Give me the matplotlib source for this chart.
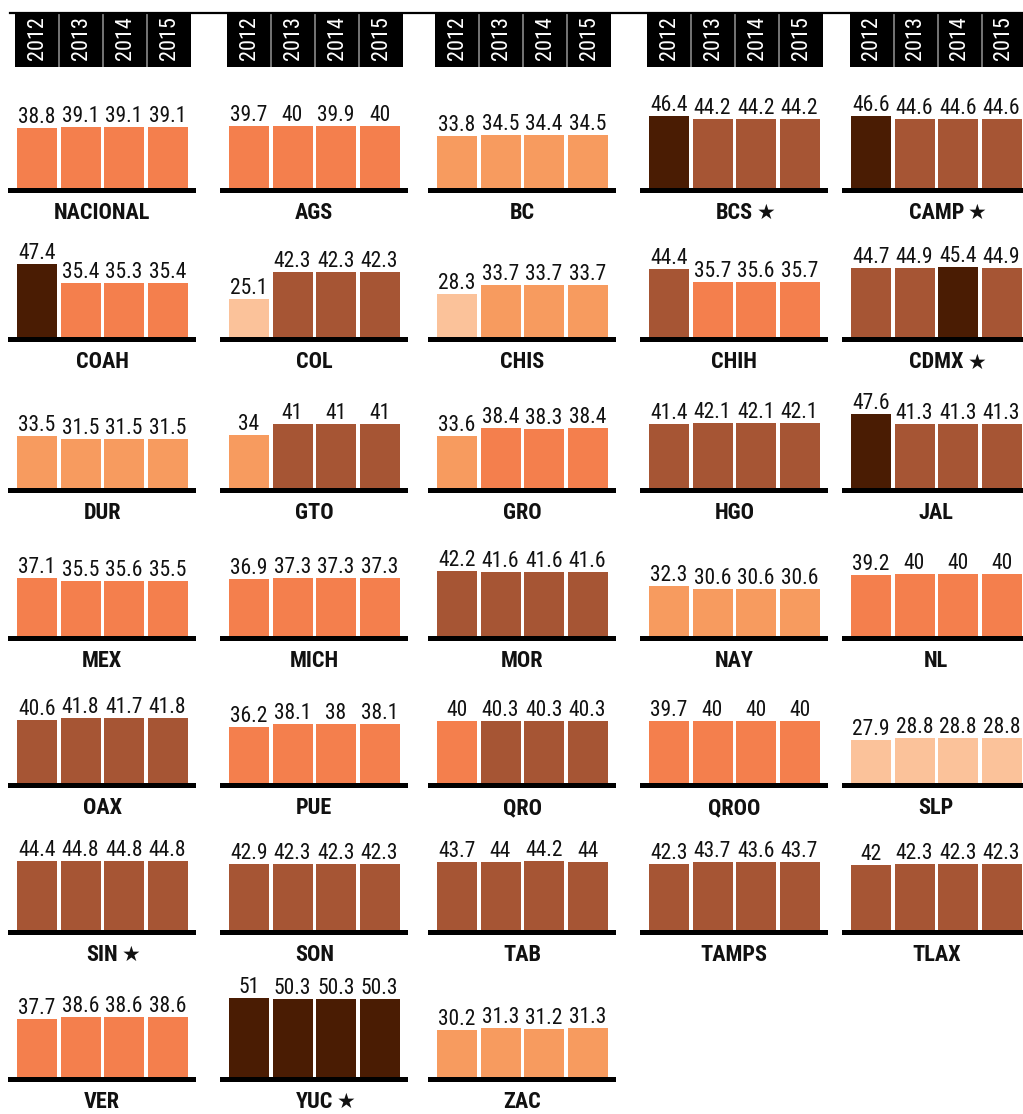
import matplotlib
matplotlib.use('Agg')
import matplotlib.pyplot as plt
from matplotlib.lines import Line2D
from matplotlib import font_manager
from matplotlib.font_manager import FontProperties
import os

W, H = 1023, 1114

years = ['2012', '2013', '2014', '2015']

states_row1 = ['NACIONAL', 'AGS', 'BC', 'BCS', 'CAMP']
states_row2 = ['COAH', 'COL', 'CHIS', 'CHIH', 'CDMX']
states_row3 = ['DUR', 'GTO', 'GRO', 'HGO', 'JAL']
states_row4 = ['MEX', 'MICH', 'MOR', 'NAY', 'NL']
states_row5 = ['OAX', 'PUE', 'QRO', 'QROO', 'SLP']
states_row6 = ['SIN', 'SON', 'TAB', 'TAMPS', 'TLAX']
states_row7 = ['VER', 'YUC', 'ZAC']

starred = ['BCS', 'CAMP', 'CDMX', 'SIN', 'YUC']

NACIONAL = [38.8, 39.1, 39.1, 39.1]
AGS = [39.7, 40, 39.9, 40]
BC = [33.8, 34.5, 34.4, 34.5]
BCS = [46.4, 44.2, 44.2, 44.2]
CAMP = [46.6, 44.6, 44.6, 44.6]
COAH = [47.4, 35.4, 35.3, 35.4]
COL = [25.1, 42.3, 42.3, 42.3]
CHIS = [28.3, 33.7, 33.7, 33.7]
CHIH = [44.4, 35.7, 35.6, 35.7]
CDMX = [44.7, 44.9, 45.4, 44.9]
DUR = [33.5, 31.5, 31.5, 31.5]
GTO = [34, 41, 41, 41]
GRO = [33.6, 38.4, 38.3, 38.4]
HGO = [41.4, 42.1, 42.1, 42.1]
JAL = [47.6, 41.3, 41.3, 41.3]
MEX = [37.1, 35.5, 35.6, 35.5]
MICH = [36.9, 37.3, 37.3, 37.3]
MOR = [42.2, 41.6, 41.6, 41.6]
NAY = [32.3, 30.6, 30.6, 30.6]
NL = [39.2, 40, 40, 40]
OAX = [40.6, 41.8, 41.7, 41.8]
PUE = [36.2, 38.1, 38, 38.1]
QRO = [40, 40.3, 40.3, 40.3]
QROO = [39.7, 40, 40, 40]
SLP = [27.9, 28.8, 28.8, 28.8]
SIN = [44.4, 44.8, 44.8, 44.8]
SON = [42.9, 42.3, 42.3, 42.3]
TAB = [43.7, 44, 44.2, 44]
TAMPS = [42.3, 43.7, 43.6, 43.7]
TLAX = [42, 42.3, 42.3, 42.3]
VER = [37.7, 38.6, 38.6, 38.6]
YUC = [51, 50.3, 50.3, 50.3]
ZAC = [30.2, 31.3, 31.2, 31.3]

data = {
    'NACIONAL': NACIONAL, 'AGS': AGS, 'BC': BC, 'BCS': BCS, 'CAMP': CAMP,
    'COAH': COAH, 'COL': COL, 'CHIS': CHIS, 'CHIH': CHIH, 'CDMX': CDMX,
    'DUR': DUR, 'GTO': GTO, 'GRO': GRO, 'HGO': HGO, 'JAL': JAL,
    'MEX': MEX, 'MICH': MICH, 'MOR': MOR, 'NAY': NAY, 'NL': NL,
    'OAX': OAX, 'PUE': PUE, 'QRO': QRO, 'QROO': QROO, 'SLP': SLP,
    'SIN': SIN, 'SON': SON, 'TAB': TAB, 'TAMPS': TAMPS, 'TLAX': TLAX,
    'VER': VER, 'YUC': YUC, 'ZAC': ZAC,
}
rows = [states_row1, states_row2, states_row3, states_row4,
        states_row5, states_row6, states_row7]

# colour bins
bin_edges = [30, 35, 40, 45]
bin_colors = ['#fbc29a', '#f79b5f', '#f47f4d', '#a65534', '#4a1c03']


def colour_for(v):
    for edge, c in zip(bin_edges, bin_colors):
        if v <= edge:
            return c
    return bin_colors[-1]


# ---- pick the narrowest available fonts ----
font_files = [f.fname for f in font_manager.fontManager.ttflist]


def find_font(patterns, fallback_weight):
    for p in patterns:
        for fn in font_files:
            if os.path.basename(fn).startswith(p):
                return FontProperties(fname=fn)
    return FontProperties(family='DejaVu Sans', stretch='condensed',
                          weight=fallback_weight)


val_fp = find_font(['NotoSans-ExtraCondensed.', 'RobotoCondensed-Regular',
                    'LiberationSansNarrow-Regular', 'NotoSans-Condensed.',
                    'NotoSans-ExtraCondensedMedium.', 'RobotoCondensed-Medium',
                    'DejaVuSansCondensed.'], 'normal')
lab_fp = find_font(['NotoSans-ExtraCondensedBold.', 'NotoSans-ExtraCondensedSemiBold.',
                    'RobotoCondensed-Bold', 'LiberationSansNarrow-Bold.',
                    'NotoSans-CondensedBold.', 'DejaVuSansCondensed-Bold.'], 'bold')


def fp(base, size):
    p = base.copy()
    p.set_size(size)
    return p


fig = plt.figure(figsize=(W / 100, H / 100), dpi=100)

# layout in pixels
bar_left = [17, 229, 437, 649, 851]
header_left = [15, 227, 435, 647, 850]
row_base = [188, 337.5, 488, 636, 783, 930, 1077]
pitch = 43.5
bw = 40 / pitch
pre = 9
axw = 188
thick = 5
scale = 1.55
axh = 100

# top line
fig.add_artist(Line2D([10 / W, 1.0], [1 - 12.5 / H] * 2, color='black',
                      lw=1.6, transform=fig.transFigure))

# headers
for hl in header_left:
    hax = fig.add_axes([hl / W, 1 - 67 / H, 176 / W, 54 / H])
    hax.set_facecolor('black')
    hax.set_xlim(0, 4)
    hax.set_ylim(0, 1)
    for s in hax.spines.values():
        s.set_visible(False)
    hax.set_xticks([])
    hax.set_yticks([])
    for i in range(1, 4):
        hax.axvline(i, color='#8a8a8a', lw=1.2)
    for i, y in enumerate(years):
        hax.text(i + 0.5, 0.53, y, rotation=90, color='white', ha='center',
                 va='center', fontproperties=fp(val_fp, 16))

# panels
for r, row in enumerate(rows):
    for c, st in enumerate(row):
        vals = data[st]
        left_px = bar_left[c] - pre
        bottom_px = row_base[r] + thick
        ax = fig.add_axes([left_px / W, 1 - bottom_px / H, axw / W, axh / H])
        xmin = -bw / 2 - pre / pitch
        xmax = xmin + axw / pitch
        ymin = -thick / scale
        ax.set_xlim(xmin, xmax)
        ax.set_ylim(ymin, ymin + axh / scale)
        ax.axis('off')
        xs = list(range(len(vals)))
        ax.bar(xs, vals, width=bw, color=[colour_for(v) for v in vals],
               linewidth=0)
        ax.axhspan(ymin, 0, color='black', lw=0)
        for x, v in zip(xs, vals):
            ax.annotate(f'{v:g}', xy=(x, v), xytext=(0, 5),
                        textcoords='offset pixels', ha='center',
                        va='baseline', fontproperties=fp(val_fp, 15.5),
                        color='#111111', annotation_clip=False)
        lab = ax.annotate(st, xy=(1.5, ymin), xytext=(0, -20),
                          textcoords='offset pixels', ha='center', va='center',
                          fontproperties=fp(lab_fp, 16),
                          color='#111111', annotation_clip=False)
        if st in starred:
            ax.annotate('★', xy=(1, 0.5), xycoords=lab, xytext=(4, 0),
                        textcoords='offset pixels', ha='left', va='center',
                        fontsize=15, family='DejaVu Sans', color='#111111',
                        annotation_clip=False)

fig.savefig('out.png', dpi=100, facecolor='white')
